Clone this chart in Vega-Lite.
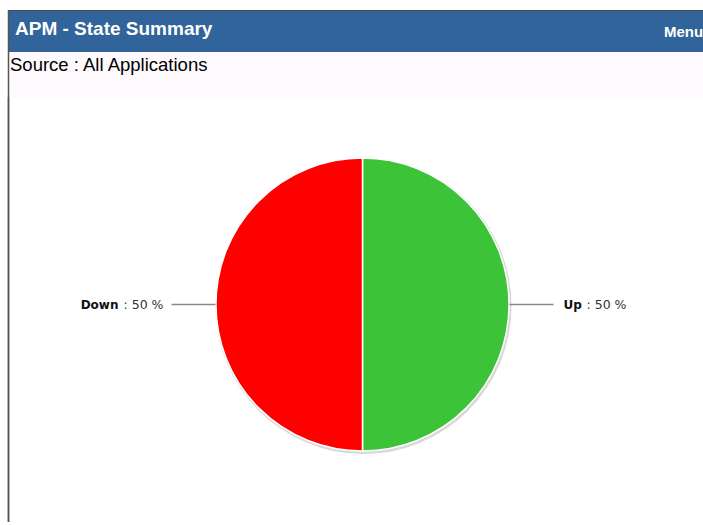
{
  "$schema": "https://vega.github.io/schema/vega-lite/v6.json",
  "background": "#ffffff",
  "padding": {"left": 7, "top": 9, "right": 0, "bottom": 0},
  "spacing": 0,
  "bounds": "flush",
  "config": {"view": {"stroke": null}},
  "vconcat": [
    {
      "width": 707,
      "height": 42,
      "view": {"fill": "#31649A", "stroke": null},
      "data": {"values": [{"title": "APM - State Summary", "menu": "Menu"}]},
      "layer": [
        {
          "mark": {"type": "text", "align": "left", "baseline": "alphabetic", "font": "Liberation Sans", "fontSize": 19, "fontWeight": "bold", "color": "#ffffff"},
          "encoding": {"x": {"value": 6}, "y": {"value": 25}, "text": {"field": "title"}}
        },
        {
          "mark": {"type": "text", "align": "left", "baseline": "alphabetic", "font": "Liberation Sans", "fontSize": 15, "fontWeight": "bold", "color": "#ffffff"},
          "encoding": {"x": {"value": 655}, "y": {"value": 27}, "text": {"field": "menu"}}
        },
        {
          "mark": {"type": "rule", "color": "#4a4a4a", "strokeWidth": 1},
          "encoding": {"y": {"value": 0.5}}
        },
        {
          "mark": {"type": "rule", "color": "#555555", "strokeWidth": 1.5},
          "encoding": {"x": {"value": -0.5}}
        }
      ]
    },
    {
      "width": 707,
      "height": 45,
      "view": {"fill": "#FDF9FD", "stroke": null},
      "data": {"values": [{"source": "Source : All Applications"}]},
      "layer": [
        {
          "mark": {"type": "text", "align": "left", "baseline": "alphabetic", "font": "Liberation Sans", "fontSize": 18.5, "color": "#000000"},
          "encoding": {"x": {"value": 1}, "y": {"value": 19}, "text": {"field": "source"}}
        },
        {
          "mark": {"type": "rule", "color": "#555555", "strokeWidth": 1.5},
          "encoding": {"x": {"value": -0.5}}
        }
      ]
    },
    {
      "width": 707,
      "height": 415,
      "view": {"fill": "#ffffff", "stroke": null},
      "data": {"values": [
        {"state": "Up", "value": 50, "order": 1},
        {"state": "Down", "value": 50, "order": 2}
      ]},
      "encoding": {
        "theta": {"field": "value", "type": "quantitative", "stack": true},
        "order": {"field": "order", "type": "quantitative"}
      },
      "layer": [
        {
          "mark": {"type": "rule", "color": "#555555", "strokeWidth": 1.5},
          "encoding": {"x": {"value": -0.5}, "y": {"value": 0}, "y2": {"value": 425}, "theta": null, "order": null}
        },
        {
          "mark": {"type": "arc", "outerRadius": 148, "color": "#b8b8b8", "opacity": 0.55, "xOffset": 1, "yOffset": 1.5}
        },
        {
          "mark": {"type": "arc", "outerRadius": 146.5, "stroke": "#ffffff", "strokeWidth": 1.5},
          "encoding": {
            "color": {"field": "state", "type": "nominal", "scale": {"domain": ["Up", "Down"], "range": ["#3CC338", "#FF0000"]}, "legend": null}
          }
        },
        {
          "mark": {"type": "arc", "outerRadius": 191, "innerRadius": 147, "padAngle": 3, "fillOpacity": 0, "stroke": "#888888", "strokeWidth": 1.5}
        },
        {
          "mark": {"type": "text", "radius": 201, "align": "left", "baseline": "middle", "font": "DejaVu Sans", "fontSize": 12, "fontWeight": "bold", "color": "#111111"},
          "encoding": {"text": {"condition": {"test": "datum.state === 'Up'", "field": "state"}, "value": ""}}
        },
        {
          "transform": [{"calculate": "': ' + datum.value + ' %'", "as": "label"}],
          "mark": {"type": "text", "radius": 201, "dx": 23, "align": "left", "baseline": "middle", "font": "DejaVu Sans", "fontSize": 12.5, "color": "#333333"},
          "encoding": {"text": {"condition": {"test": "datum.state === 'Up'", "field": "label"}, "value": ""}}
        },
        {
          "mark": {"type": "text", "radius": 199, "dx": -45, "align": "right", "baseline": "middle", "font": "DejaVu Sans", "fontSize": 12, "fontWeight": "bold", "color": "#111111"},
          "encoding": {"text": {"condition": {"test": "datum.state === 'Down'", "field": "state"}, "value": ""}}
        },
        {
          "transform": [{"calculate": "': ' + datum.value + ' %'", "as": "label"}],
          "mark": {"type": "text", "radius": 199, "align": "right", "baseline": "middle", "font": "DejaVu Sans", "fontSize": 12.5, "color": "#333333"},
          "encoding": {"text": {"condition": {"test": "datum.state === 'Down'", "field": "label"}, "value": ""}}
        }
      ]
    }
  ]
}
